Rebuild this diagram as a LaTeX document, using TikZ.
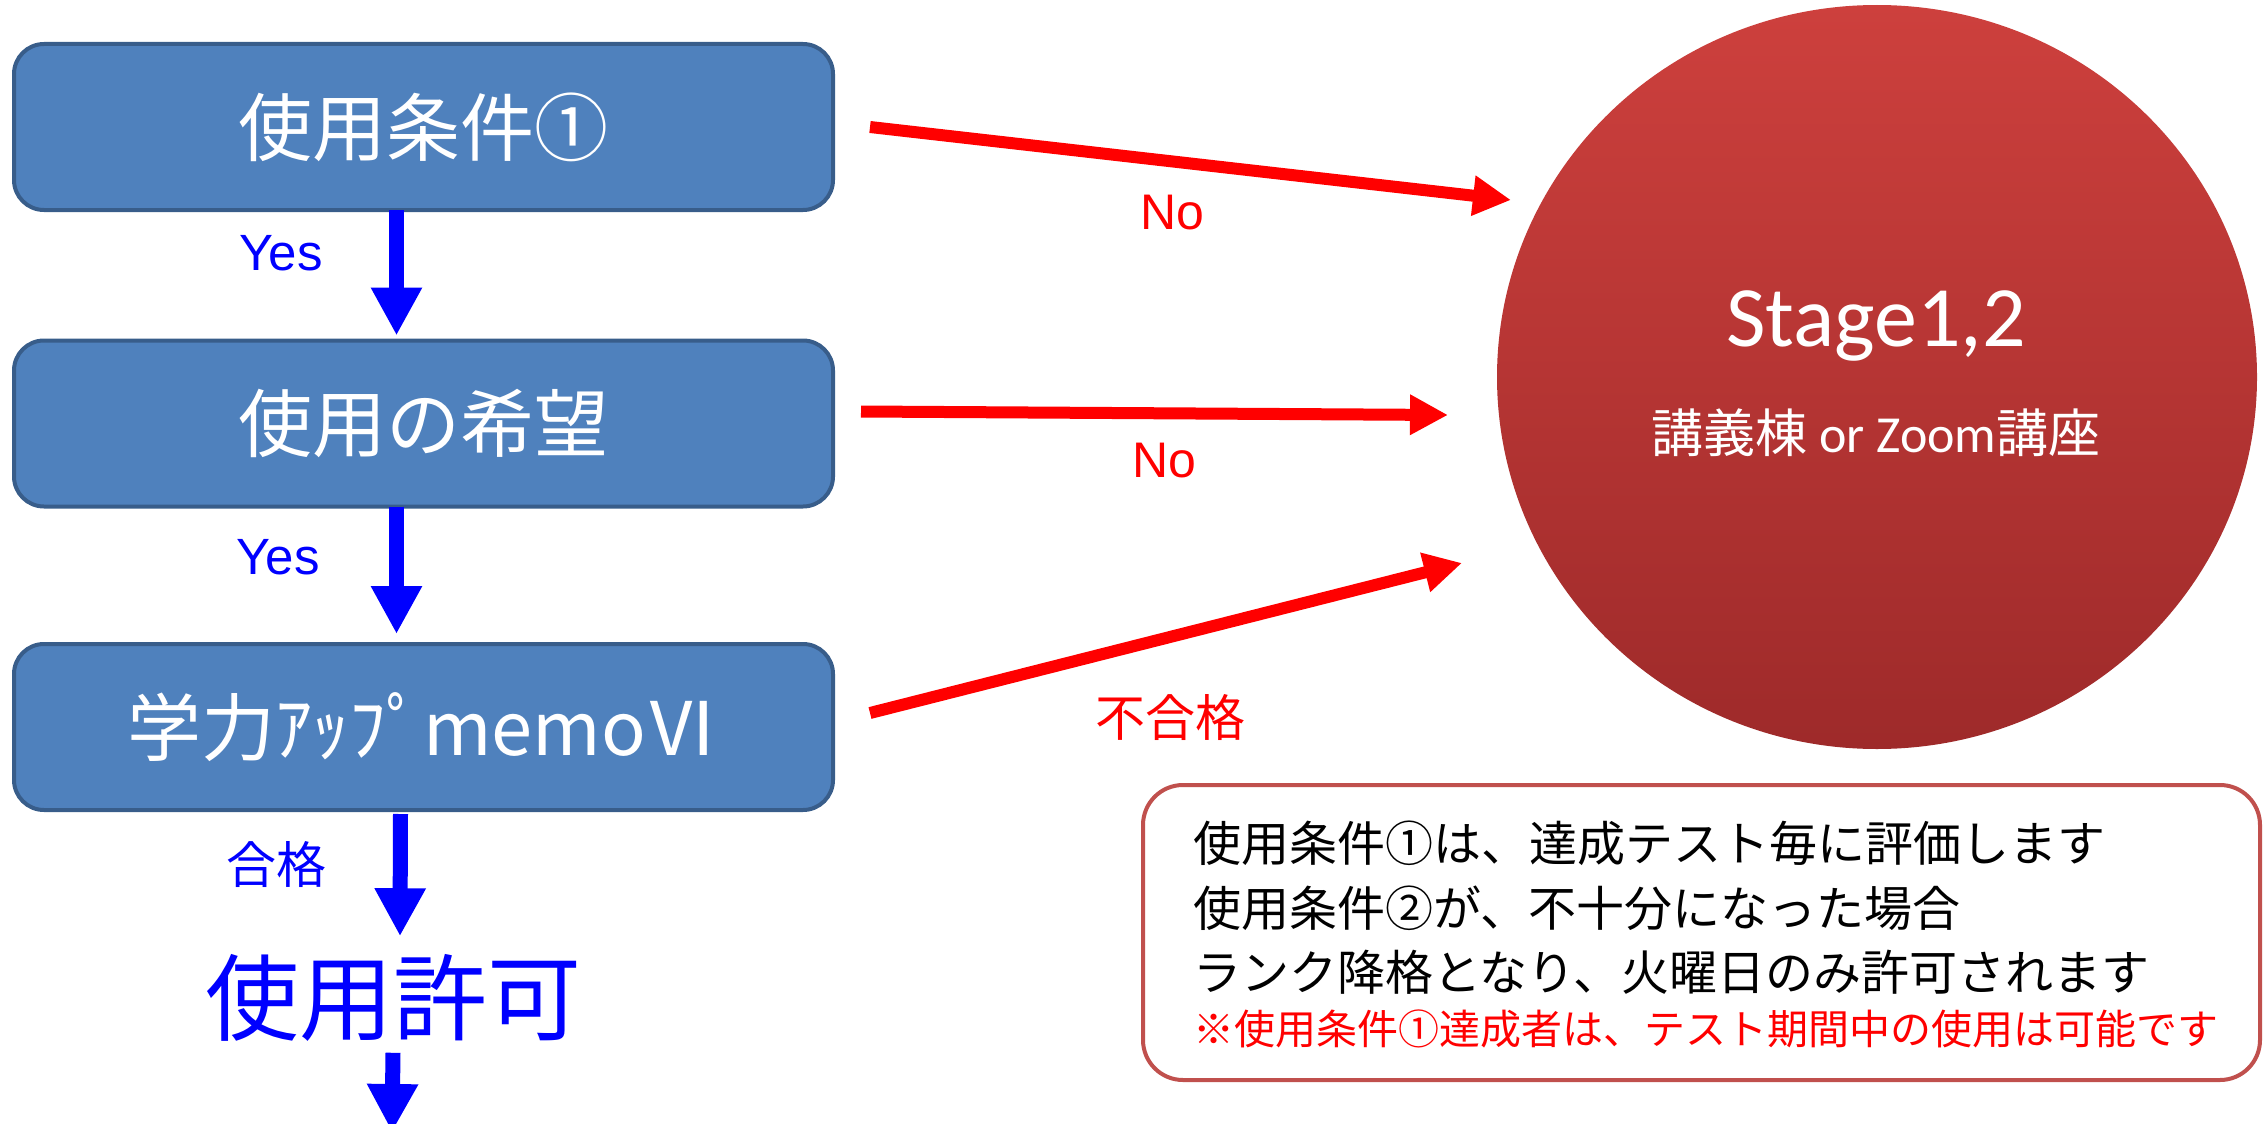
\documentclass[tikz,border=0pt]{standalone}
\usepackage{fontspec}
\usetikzlibrary{arrows.meta,calc,shapes.geometric}
\newfontfamily\jp{Noto Sans CJK JP}
\newfontfamily\carl{Carlito}
\newfontfamily\arl{Liberation Sans}
\newcommand{\setfs}[1]{\fontsize{#1}{#1}\selectfont}
\definecolor{boxfill}{RGB}{79,129,189}
\definecolor{boxline}{RGB}{56,93,138}
\definecolor{noteline}{RGB}{192,80,77}
\definecolor{ctop}{RGB}{205,64,61}
\definecolor{cbot}{RGB}{158,42,42}
\begin{document}
\begin{tikzpicture}[x=1pt,y=-1pt,
  flowbox/.style={draw=boxline, line width=4pt, fill=boxfill, rounded corners=30pt,
    minimum width=819pt, minimum height=166pt, inner sep=0pt, outer sep=0pt,
    text=white, font=\jp\setfs{74}},
  barrow/.style={draw=blue, line width=15pt, -{Triangle[length=48pt,width=48pt]}},
  rarrow/.style={draw=red, line width=12pt, -{Triangle[length=38pt,width=38pt]}},
  bluelbl/.style={text=blue, inner sep=0pt},
  redlbl/.style={text=red, inner sep=0pt},
  notebox/.style={draw=noteline, line width=4pt, fill=white, rounded corners=40pt,
    minimum width=1117pt, minimum height=295pt, inner sep=0pt},
  notetxt/.style={anchor=west, inner sep=0pt, font=\jp\setfs{48}},
  notered/.style={anchor=west, inner sep=0pt, text=red, font=\jp\setfs{41}}
]
\useasboundingbox (0,0) rectangle (2265,1124);

% flow boxes
\node[flowbox] (b1) at (423.5,127) {使用条件①};
\node[flowbox] (b2) at (423.5,423.5) {使用の希望};
\node[flowbox] (b3) at (423.5,727) {学力ｱｯﾌﾟmemoⅥ};
\node[text=blue, inner sep=0pt, font=\jp\setfs{94}] (ok) at (393,998) {使用許可};
\coordinate (endfree) at (392,1132);

% blue arrows
\draw[barrow] ([xshift=-27pt]b1.south) -- ([xshift=-27pt,yshift=5pt]b2.north);
\draw[barrow] ([xshift=-27pt]b2.south) -- ([xshift=-27pt,yshift=10pt]b3.north);
\draw[barrow] ([xshift=-23pt,yshift=-4pt]b3.south) -- ([xshift=7pt,yshift=18pt]ok.north);
\draw[barrow] ([yshift=-11pt]ok.south) -- (endfree);

% blue labels
\node[bluelbl, font=\arl\setfs{51}] (y1) at (281,253) {Yes};
\node[bluelbl, font=\arl\setfs{51}] (y2) at (278,557) {Yes};
\node[bluelbl, font=\jp\setfs{50}] (g1) at (276,864) {合格};

% stage circle
\node[ellipse, minimum width=760pt, minimum height=744pt, inner sep=0pt,
      top color=ctop, bottom color=cbot, draw=none] (stage) at (1877,377) {};
\node[text=white, inner sep=0pt, font=\carl\setfs{86}] (st1) at (1876,326) {Stage1,2};
\node[text=white, inner sep=0pt, font=\carl\setfs{52}] (st2) at (1876,433)
  {{\jp 講義棟} or Zoom{\jp 講座}};

% red arrows
\coordinate (e1) at (1511,200);
\coordinate (e2) at (1448,415);
\coordinate (e3) at (1462,563);
\draw[rarrow] ([xshift=37pt]b1.east) -- (e1);
\draw[rarrow] ([xshift=28pt,yshift=12pt]b2.east) -- (e2);
\draw[rarrow] ([xshift=37pt,yshift=14pt]b3.east) -- (e3);

% red labels
\node[redlbl, font=\arl\setfs{50}] (n1) at (1172,213) {No};
\node[redlbl, font=\arl\setfs{50}] (n2) at (1164,461) {No};
\node[redlbl, font=\jp\setfs{50}] (n3) at (1170,717) {不合格};

% note box
\node[notebox] (note) at (1701.5,932.5) {};
\node[notetxt] (l1) at (1193,843) {使用条件①は、達成テスト毎に評価します};
\node[notetxt] (l2) at (1193,908) {使用条件②が、不十分になった場合};
\node[notetxt] (l3) at (1193,972) {ランク降格となり、火曜日のみ許可されます};
\node[notered] (l4) at (1193,1029) {※使用条件①達成者は、テスト期間中の使用は可能です};
\end{tikzpicture}
\end{document}
